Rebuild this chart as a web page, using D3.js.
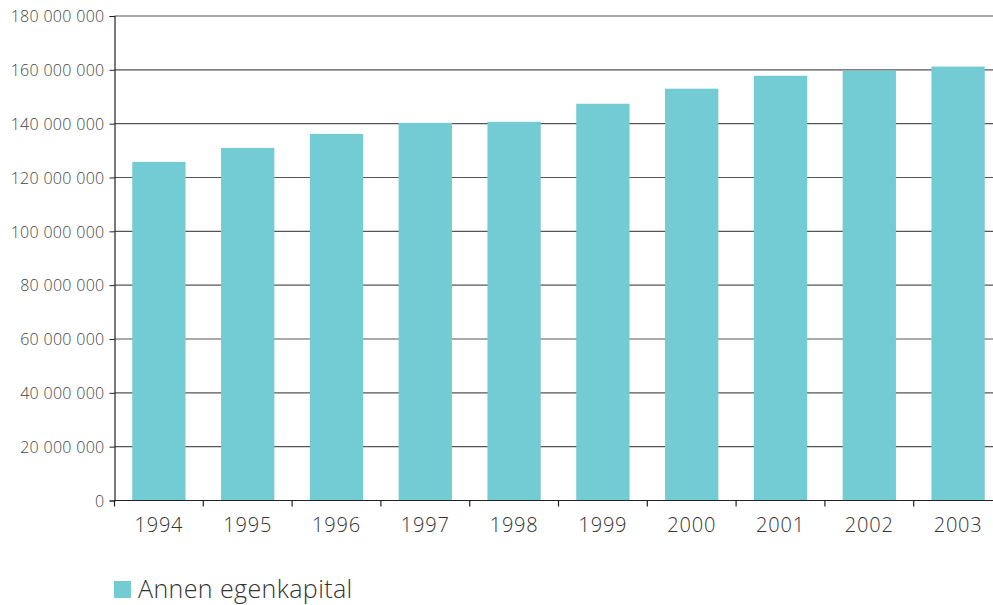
<!DOCTYPE html>
<html>
<head>
<meta charset="utf-8">
<script src="https://cdn.jsdelivr.net/npm/d3@7"></script>
<style>
  body { margin: 0; background: #fff; }
  svg { display: block; font-family: "Open Sans", "DejaVu Sans", sans-serif; }
</style>
</head>
<body>
<script>
// Data
const years = ["1994", "1995", "1996", "1997", "1998", "1999", "2000", "2001", "2002", "2003"];
const values = [125800000, 131000000, 136200000, 140300000, 140700000, 147400000, 153000000, 157800000, 159700000, 161200000];
const yTicks = [0, 20000000, 40000000, 60000000, 80000000, 100000000, 120000000, 140000000, 160000000, 180000000];
const seriesName = "Annen egenkapital";

// Layout
const width = 993;
const height = 605;
const margin = { left: 114.5, top: 16, bottom: 500.5 };
const bandStep = 88.8;
const barColor = "#73cbd3";
const font = "'Open Sans', 'DejaVu Sans', sans-serif";

const svg = d3.select("body").append("svg")
  .attr("width", width)
  .attr("height", height);

const x = d3.scaleBand()
  .domain(years)
  .range([margin.left, margin.left + bandStep * years.length])
  .paddingInner(0.4)
  .paddingOuter(0.2);

const y = d3.scaleLinear()
  .domain([0, 180000000])
  .range([margin.bottom, margin.top]);

// space as thousands separator
const fmt = d => d3.format(",")(d).replace(/,/g, " ");

// Gridlines
svg.append("g")
  .selectAll("line")
  .data(yTicks.filter(d => d > 0))
  .join("line")
    .attr("x1", margin.left)
    .attr("x2", width)
    .attr("y1", d => y(d))
    .attr("y2", d => y(d))
    .attr("stroke", "#555")
    .attr("stroke-width", 1.2);

// Bars
svg.append("g")
  .selectAll("rect")
  .data(values)
  .join("rect")
    .attr("x", (d, i) => x(years[i]))
    .attr("y", d => y(d))
    .attr("width", x.bandwidth())
    .attr("height", d => y(0) - y(d))
    .attr("fill", barColor);

// Y axis
const yAxis = svg.append("g")
  .attr("transform", `translate(${margin.left},0)`)
  .call(d3.axisLeft(y).tickValues(yTicks).tickFormat(fmt).tickSize(5).tickPadding(5))
  .attr("font-family", font)
  .attr("font-size", null);
yAxis.select(".domain").attr("stroke", "#222").attr("stroke-width", 1.2);
yAxis.selectAll(".tick line").attr("stroke", "#222");
yAxis.selectAll(".tick text")
  .attr("fill", "#444")
  .style("font-size", "16px")
  .style("font-weight", 300)
  .style("letter-spacing", "0.3px")
  .attr("dy", "0.36em");

// X axis
const xAxis = svg.append("g")
  .attr("transform", `translate(0,${margin.bottom})`)
  .call(d3.axisBottom(x).tickSize(0).tickPadding(17))
  .attr("font-family", font)
  .attr("font-size", null);
xAxis.select(".domain").attr("d", `M${margin.left},0H${width}`).attr("stroke", "#222").attr("stroke-width", 1.2);
xAxis.selectAll(".tick text")
  .attr("fill", "#333")
  .style("font-size", "20px")
  .style("font-weight", 300)
  .style("letter-spacing", "0.8px");

// category separator ticks
svg.append("g")
  .selectAll("line")
  .data(d3.range(years.length + 1))
  .join("line")
    .attr("x1", i => margin.left + i * bandStep)
    .attr("x2", i => margin.left + i * bandStep)
    .attr("y1", margin.bottom)
    .attr("y2", margin.bottom + 6)
    .attr("stroke", "#222")
    .attr("stroke-width", 1.2);

// Legend
const legend = svg.append("g").attr("transform", "translate(114,581)");
legend.append("rect")
  .attr("width", 17)
  .attr("height", 17)
  .attr("fill", barColor);
legend.append("text")
  .attr("x", 24)
  .attr("y", 17)
  .attr("fill", "#333")
  .style("font-size", "25px")
  .style("font-weight", 300)
  .style("letter-spacing", "0.4px")
  .text(seriesName);
</script>
</body>
</html>
